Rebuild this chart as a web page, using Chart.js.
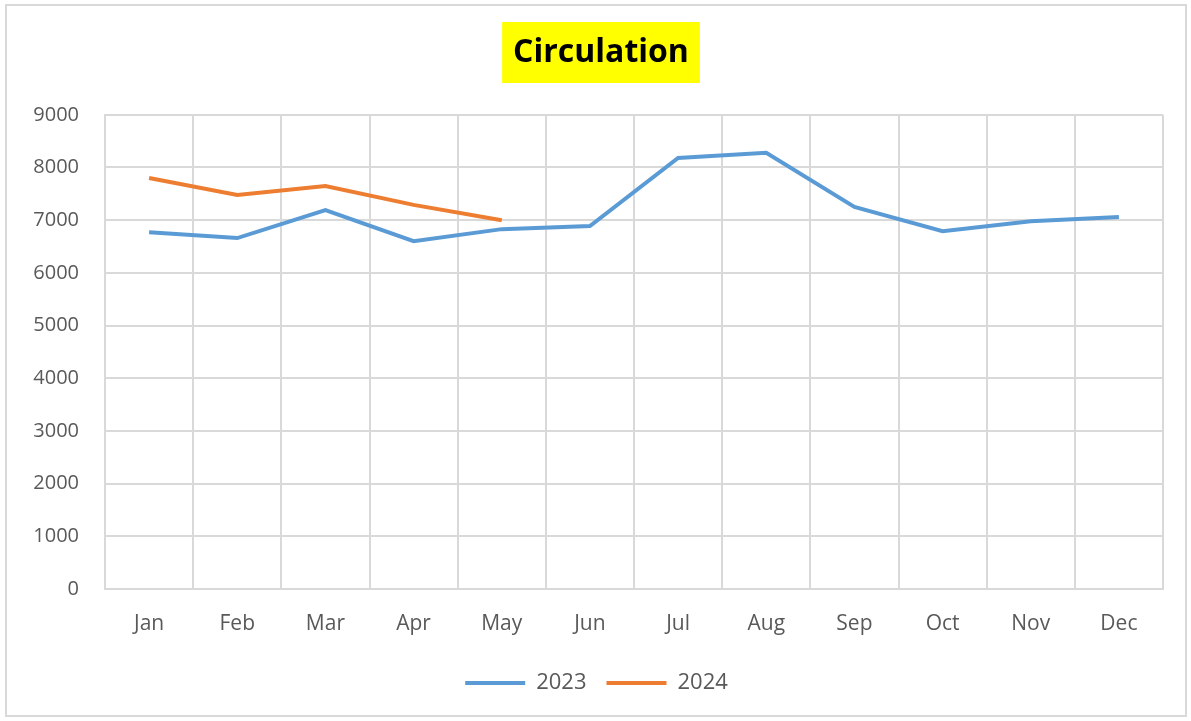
<!DOCTYPE html>
<html>
<head>
<meta charset="utf-8">
<script src="https://cdn.jsdelivr.net/npm/chart.js@4/dist/chart.umd.min.js"></script>
<style>
  html, body { margin: 0; padding: 0; background: #fff; }
  #frame {
    position: absolute; left: 5px; top: 4px; width: 1178px; height: 709px;
    border: 2px solid #d9d9d9;
  }
  #wrap { position: absolute; left: 0; top: 0; width: 1191px; height: 721px; }
</style>
</head>
<body>
<div id="frame"></div>
<div id="wrap"><canvas id="graph" width="1191" height="721"></canvas></div>
<script>
const months = ['Jan', 'Feb', 'Mar', 'Apr', 'May', 'Jun', 'Jul', 'Aug', 'Sep', 'Oct', 'Nov', 'Dec'];
const circ2023 = [6770, 6660, 7190, 6600, 6830, 6890, 8180, 8280, 7250, 6790, 6980, 7060];
const circ2024 = [7800, 7480, 7650, 7290, 7000];
const yTicks = [0, 1000, 2000, 3000, 4000, 5000, 6000, 7000, 8000, 9000];
const chartTitle = 'Circulation';

const FONT = '"Open Sans", "Liberation Sans", sans-serif';

// title text on a yellow box (the built-in title only reserves the space)
const titleBg = {
    id: 'titleBg',
    afterDraw(chart) {
        const ctx = chart.ctx;
        ctx.save();
        ctx.font = 'bold 32px ' + FONT;
        const w = ctx.measureText(chartTitle).width;
        const cx = 601;
        ctx.fillStyle = '#ffff00';
        ctx.fillRect(cx - w / 2 - 11, 22, w + 22, 61);
        ctx.fillStyle = '#000';
        ctx.textAlign = 'center';
        ctx.textBaseline = 'middle';
        ctx.fillText(chartTitle, cx, 53);
        ctx.restore();
    }
};

window.addEventListener('DOMContentLoaded', () => {
    const graph = document.getElementById('graph');
    new Chart(graph, {
        type: 'line',
        data: {
            labels: months,
            datasets: [{
                label: '2023',
                data: circ2023,
                borderColor: '#5b9bd5',
                backgroundColor: '#5b9bd5',
                borderWidth: 4,
                pointRadius: 0,
                tension: 0
            }, {
                label: '2024',
                data: circ2024,
                borderColor: '#ed7d31',
                backgroundColor: '#ed7d31',
                borderWidth: 4,
                pointRadius: 0,
                tension: 0
            }]
        },
        options: {
            responsive: false,
            animation: false,
            devicePixelRatio: 1,
            layout: {padding: {left: 30, right: 28, top: 0, bottom: 17}},
            plugins: {
                title: {
                    display: true,
                    text: chartTitle,
                    color: 'rgba(0,0,0,0)',
                    font: {family: FONT, size: 29, weight: 'bold'},
                    padding: {top: 36, bottom: 44}
                },
                legend: {
                    position: 'bottom',
                    labels: {
                        usePointStyle: true,
                        pointStyle: 'line',
                        pointStyleWidth: 60,
                        color: '#595959',
                        font: {family: FONT, size: 22},
                        padding: 20
                    }
                },
                tooltip: {enabled: false}
            },
            scales: {
                x: {
                    offset: true,
                    grid: {offset: true, color: '#d9d9d9', lineWidth: 2, drawTicks: false},
                    border: {color: '#d9d9d9', width: 2},
                    ticks: {color: '#595959', font: {family: FONT, size: 21}, padding: 22},
                    afterFit: (s) => { s.height = 63; }
                },
                y: {
                    min: 0,
                    max: 9000,
                    afterBuildTicks: (s) => { s.ticks = yTicks.map(v => ({value: v})); },
                    grid: {color: '#d9d9d9', lineWidth: 2, drawTicks: false},
                    border: {color: '#d9d9d9', width: 2},
                    ticks: {
                        color: '#595959',
                        font: {family: FONT, size: 20},
                        padding: 26,
                        callback: (v) => String(v)
                    },
                    afterFit: (s) => { s.width = 75; }
                }
            }
        },
        plugins: [titleBg]
    });
});
</script>
</body>
</html>
